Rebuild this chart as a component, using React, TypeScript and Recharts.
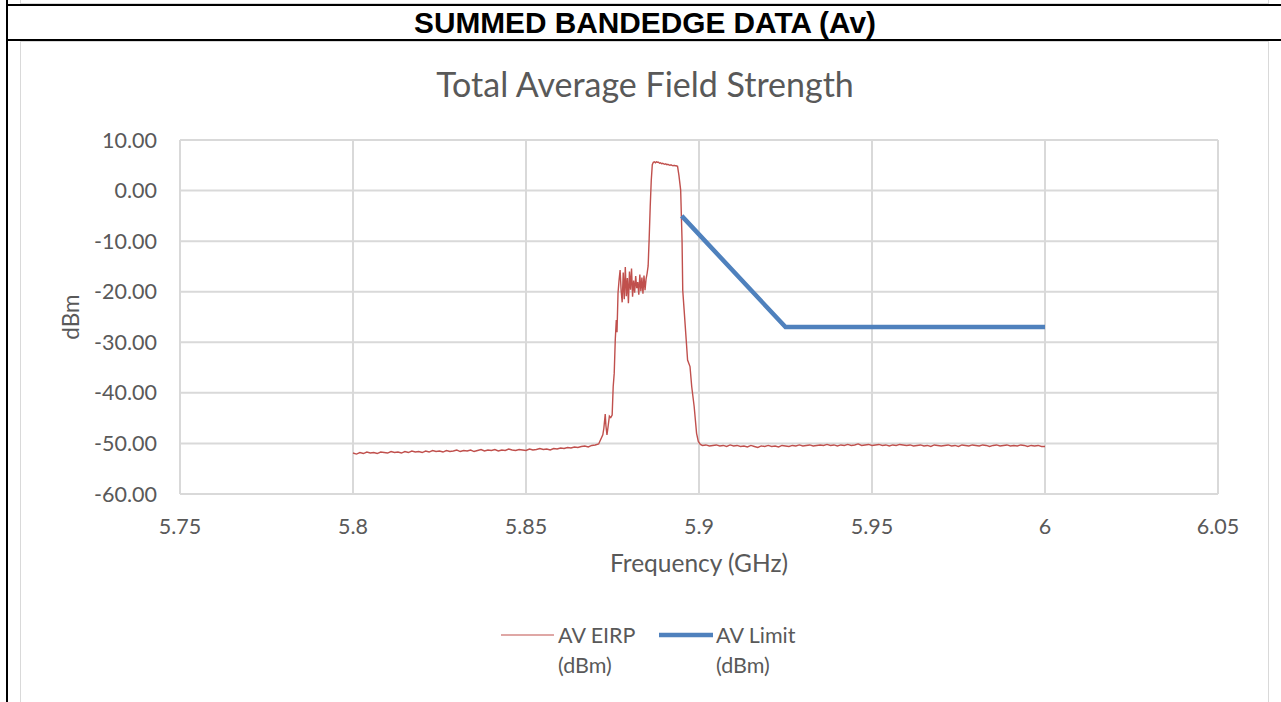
import React from "react";
import { LineChart, Line, XAxis, YAxis, CartesianGrid } from "recharts";

// sweep grid of the analyser (GHz)
const SWEEP_STEP = 0.001;

// noise floor below the channel, 5.800 .. 5.871 GHz
const LOW_FLOOR_START = 5.8;
const lowFloorDbm = [
  -51.9, -52.1, -51.8, -52.0, -51.7, -51.9, -51.8, -52.0, -51.7, -51.8,
  -51.9, -51.6, -51.8, -51.7, -51.9, -51.6, -51.8, -51.5, -51.7, -51.6,
  -51.8, -51.5, -51.7, -51.4, -51.6, -51.5, -51.7, -51.4, -51.6, -51.5,
  -51.3, -51.6, -51.4, -51.5, -51.3, -51.6, -51.4, -51.2, -51.5, -51.3,
  -51.4, -51.2, -51.5, -51.3, -51.4, -51.1, -51.3, -51.4, -51.2, -51.3,
  -51.4, -51.1, -51.3, -51.2, -51.0, -51.2, -51.1, -51.3, -51.0, -51.1,
  -50.9, -51.0, -50.8, -50.9, -50.7, -50.8, -50.6, -50.5, -50.7, -50.4,
  -50.3, -50.1,
];

// the channel itself
const peakFreqGHz = [
  5.8722, 5.8725, 5.8729, 5.8731, 5.8734, 5.8737, 5.8741, 5.8745, 5.8749, 5.8752,
  5.8755, 5.8758, 5.8761, 5.8763, 5.8766, 5.8769, 5.8772, 5.8775, 5.8778, 5.8781,
  5.8784, 5.8787, 5.879, 5.8793, 5.8796, 5.8799, 5.8802, 5.8805, 5.8808, 5.8811,
  5.8814, 5.8817, 5.882, 5.8823, 5.8826, 5.8829, 5.8832, 5.8835, 5.8838, 5.8841,
  5.8844, 5.8847, 5.885, 5.8853, 5.8856, 5.8859, 5.8862, 5.8865, 5.8868, 5.8871,
  5.8874, 5.8877, 5.888, 5.8883, 5.8886, 5.8889, 5.8892, 5.8895, 5.8898, 5.8901,
  5.8904, 5.8907, 5.891, 5.8913, 5.8916, 5.8919, 5.8922, 5.8925, 5.8928, 5.8931,
  5.8934, 5.8938, 5.8942, 5.8947, 5.8951, 5.8953, 5.8957, 5.8963, 5.8967, 5.8974,
  5.8979, 5.8986, 5.8993, 5.8998, 5.9004,
];
const peakDbm = [
  -48.3, -47.0, -44.2, -46.5, -48.3, -46.8, -44.6, -44.9, -44.4, -38.8,
  -36.1, -29.5, -25.6, -28.0, -20.2, -17.7, -15.7, -19.8, -22.1, -16.2,
  -21.5, -15.1, -20.9, -17.3, -22.3, -16.0, -19.6, -15.4, -21.0, -17.8,
  -20.2, -16.9, -19.3, -18.1, -20.6, -16.6, -19.9, -17.2, -20.4, -16.8,
  -19.7, -17.5, -16.4, -14.9, -9.5, -3.2, 2.0, 5.1, 5.6, 5.7,
  5.5, 5.7, 5.6, 5.6, 5.4, 5.5, 5.3, 5.4, 5.3, 5.2,
  5.3, 5.1, 5.2, 5.1, 5.0, 5.1, 5.0, 4.9, 5.0, 4.9,
  4.9, 4.8, 3.0, 0.1, -9.8, -19.7, -23.6, -29.5, -33.5, -34.8,
  -38.8, -42.7, -48.0, -49.6, -50.2,
];

// noise floor above the channel, 5.901 .. 6.000 GHz
const HIGH_FLOOR_START = 5.901;
const highFloorDbm = [
  -50.4, -50.3, -50.5, -50.4, -50.3, -50.5, -50.4, -50.6, -50.3, -50.5,
  -50.4, -50.6, -50.5, -50.7, -50.4, -50.6, -50.8, -50.5, -50.6, -50.4,
  -50.6, -50.5, -50.7, -50.4, -50.5, -50.6, -50.4, -50.5, -50.3, -50.5,
  -50.4, -50.3, -50.5, -50.4, -50.3, -50.4, -50.2, -50.4, -50.3, -50.5,
  -50.3, -50.4, -50.2, -50.4, -50.3, -50.1, -50.4, -50.3, -50.2, -50.4,
  -50.3, -50.2, -50.4, -50.3, -50.5, -50.3, -50.4, -50.2, -50.3, -50.4,
  -50.3, -50.5, -50.4, -50.3, -50.5, -50.4, -50.6, -50.3, -50.4, -50.5,
  -50.4, -50.3, -50.5, -50.4, -50.6, -50.3, -50.4, -50.5, -50.3, -50.4,
  -50.5, -50.3, -50.4, -50.6, -50.4, -50.3, -50.5, -50.4, -50.3, -50.5,
  -50.4, -50.5, -50.3, -50.4, -50.6, -50.4, -50.5, -50.4, -50.6, -50.6,
];

const limitFreqGHz = [5.895, 5.925, 6.0];
const limitDbm = [-5, -27, -27];

const xTicks = [5.75, 5.8, 5.85, 5.9, 5.95, 6, 6.05];
const yTicks = [-60, -50, -40, -30, -20, -10, 0, 10];

type Pt = { x: number; y: number };

const sweep = (start: number, vals: number[]): Pt[] =>
  vals.map((y, i) => ({ x: Number((start + i * SWEEP_STEP).toFixed(4)), y }));

const eirpData: Pt[] = [
  ...sweep(LOW_FLOOR_START, lowFloorDbm),
  ...peakFreqGHz.map((x, i) => ({ x, y: peakDbm[i] })),
  ...sweep(HIGH_FLOOR_START, highFloorDbm),
];
const limitData: Pt[] = limitFreqGHz.map((x, i) => ({ x, y: limitDbm[i] }));

const EIRP_COLOR = "#c0504d";
const LIMIT_COLOR = "#4f81bd";
const TEXT = "#595959";
const FONT = "Lato, 'Open Sans', sans-serif";

export default function App() {
  const tick = { fill: TEXT, fontSize: 21.5, fontFamily: FONT };
  return (
    <div
      style={{
        position: "fixed", left: 0, top: 0, width: 1281, height: 702,
        background: "#fff", overflow: "hidden", fontFamily: FONT,
      }}
    >
      {/* table frame */}
      <div style={{ position: "absolute", left: 20, top: -10, width: 1247, height: 12, border: "1.5px solid #d9d9d9" }} />
      <div style={{ position: "absolute", left: 6, top: 0, width: 2, height: 702, background: "#000" }} />
      <div style={{ position: "absolute", left: 6, top: 4, width: 1275, height: 2, background: "#000" }} />
      <div style={{ position: "absolute", left: 6, top: 39, width: 1275, height: 2, background: "#000" }} />
      <div
        style={{
          position: "absolute", left: 0, top: 6, width: 1290, textAlign: "center",
          fontFamily: "'Liberation Sans', Arial, sans-serif", fontWeight: 700,
          fontSize: 29.8, lineHeight: "33px", color: "#000",
        }}
      >
        SUMMED BANDEDGE DATA (Av)
      </div>
      <div
        style={{
          position: "absolute", left: 20, top: 41, width: 1247, height: 700,
          border: "1.5px solid #d9d9d9",
        }}
      />

      {/* chart title and axis titles */}
      <div style={{ position: "absolute", left: 0, top: 63, width: 1290, textAlign: "center", fontSize: 34, color: TEXT }}>
        Total Average Field Strength
      </div>
      <div style={{ position: "absolute", left: 0, top: 548, width: 1398, textAlign: "center", fontSize: 24.5, color: TEXT }}>
        Frequency (GHz)
      </div>
      <div
        style={{
          position: "absolute", left: 70, top: 317, fontSize: 22.5, color: TEXT,
          transform: "translate(-50%, -50%) rotate(-90deg)", whiteSpace: "nowrap",
        }}
      >
        dBm
      </div>

      <div style={{ position: "absolute", left: 0, top: 0 }}>
        <LineChart width={1281} height={702} margin={{ top: 140, right: 63, bottom: 178, left: 80 }}>
          <CartesianGrid stroke="#d9d9d9" strokeWidth={2} />
          <XAxis
            type="number"
            dataKey="x"
            domain={[5.75, 6.05]}
            ticks={xTicks}
            allowDataOverflow
            height={30}
            axisLine={false}
            tickLine={false}
            tickSize={0}
            tickMargin={25}
            tick={tick}
          />
          <YAxis
            type="number"
            domain={[-60, 10]}
            ticks={yTicks}
            width={100}
            axisLine={false}
            tickLine={false}
            tickSize={0}
            tickMargin={23}
            tickFormatter={(v: number) => v.toFixed(2)}
            tick={tick}
          />
          <Line
            data={eirpData}
            dataKey="y"
            type="linear"
            stroke={EIRP_COLOR}
            strokeWidth={1.4}
            dot={false}
            isAnimationActive={false}
          />
          <Line
            data={limitData}
            dataKey="y"
            type="linear"
            stroke={LIMIT_COLOR}
            strokeWidth={4.5}
            dot={false}
            isAnimationActive={false}
          />
        </LineChart>
      </div>

      {/* legend */}
      <div style={{ position: "absolute", left: 501, top: 620, fontSize: 21.5, color: TEXT, lineHeight: "30px" }}>
        <svg width={53} height={6} style={{ position: "absolute", left: 0, top: 12 }}>
          <line x1={0} y1={3} x2={53} y2={3} stroke={EIRP_COLOR} strokeWidth={1.2} />
        </svg>
        <div style={{ position: "absolute", left: 57, top: 0, whiteSpace: "nowrap" }}>
          AV EIRP<br />(dBm)
        </div>
        <svg width={54} height={8} style={{ position: "absolute", left: 158, top: 11 }}>
          <line x1={0} y1={4} x2={54} y2={4} stroke={LIMIT_COLOR} strokeWidth={4.5} />
        </svg>
        <div style={{ position: "absolute", left: 215, top: 0, whiteSpace: "nowrap" }}>
          AV Limit<br />(dBm)
        </div>
      </div>
    </div>
  );
}
